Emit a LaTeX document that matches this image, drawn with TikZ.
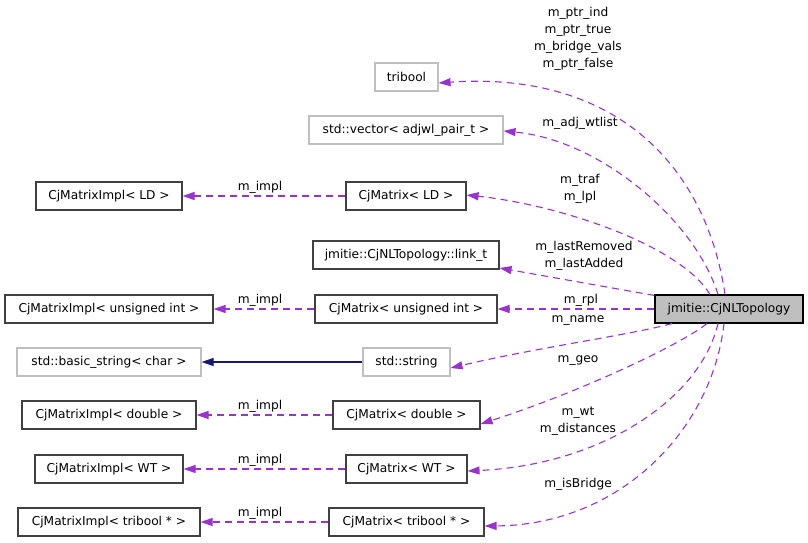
\documentclass[tikz,border=0pt]{standalone}
\usepackage{fontspec}
\setmainfont{DejaVu Sans}
\usetikzlibrary{arrows.meta}
\definecolor{edgepurple}{HTML}{9A32CD}
\definecolor{inhblue}{HTML}{191970}
\definecolor{graybd}{HTML}{BFBFBF}
\definecolor{darkbd}{HTML}{404040}
\begin{document}
\begin{tikzpicture}[x=1pt,y=-1pt,
  font=\fontsize{12.2}{14}\selectfont,
  cls/.style={draw=darkbd,line width=1.1pt,minimum height=28pt,inner sep=0pt,fill=white},
  ext/.style={draw=graybd,line width=1.1pt,minimum height=28pt,inner sep=0pt,fill=white},
  main/.style={draw=black,line width=1.1pt,minimum height=28pt,inner sep=0pt,fill=graybd},
  usage/.style={draw=edgepurple,line width=1.1pt,dash pattern=on 7pt off 5pt,-{Triangle[length=12pt,width=8pt,fill=edgepurple]}},
  inherit/.style={draw=inhblue,line width=1.1pt,-{Triangle[length=12pt,width=8pt,fill=inhblue]}},
  lbl/.style={inner sep=0pt,align=center,font=\fontsize{12.2}{17}\selectfont}]
\useasboundingbox (0,0) rectangle (808,543);

\node[ext,minimum width=63pt] (tribool) at (406.5,77) {tribool};
\node[ext,minimum width=194pt] (vec) at (406,130) {std::vector< adjwl\_pair\_t >};
\node[cls,minimum width=120pt] (mld) at (406,196) {CjMatrix< LD >};
\node[cls,minimum width=146pt] (ild) at (109,196) {CjMatrixImpl< LD >};
\node[cls,minimum width=186pt] (link) at (406,255) {jmitie::CjNLTopology::link\_t};
\node[cls,minimum width=182pt] (mui) at (406,309) {CjMatrix< unsigned int >};
\node[cls,minimum width=208pt] (iui) at (109,309) {CjMatrixImpl< unsigned int >};
\node[main,minimum width=148pt] (topo) at (729,309) {jmitie::CjNLTopology};
\node[ext,minimum width=87pt] (str) at (406.5,362) {std::string};
\node[ext,minimum width=184pt] (bstr) at (109,362) {std::basic\_string< char >};
\node[cls,minimum width=147pt] (mdb) at (406.5,415) {CjMatrix< double >};
\node[cls,minimum width=174pt] (idb) at (109,415) {CjMatrixImpl< double >};
\node[cls,minimum width=121pt] (mwt) at (406.5,469) {CjMatrix< WT >};
\node[cls,minimum width=148pt] (iwt) at (109,469) {CjMatrixImpl< WT >};
\node[cls,minimum width=155pt] (mtb) at (406.5,522) {CjMatrix< tribool * >};
\node[cls,minimum width=182pt] (itb) at (109,522) {CjMatrixImpl< tribool * >};

% usage edges from topology
\draw[usage] ([xshift=-4pt]topo.north) .. controls (705,160) and (610,71) .. ([yshift=-6pt]tribool.east);
\draw[usage] ([xshift=-11pt]topo.north) .. controls (695,220) and (600,140) .. ([yshift=-1pt]vec.east);
\draw[usage] ([xshift=-19pt]topo.north) .. controls (680,245) and (560,205) .. ([yshift=1pt]mld.east);
\draw[usage] ([yshift=-1pt]topo.north west) -- ([yshift=-13pt]link.east);
\draw[usage] (topo.west) -- (mui.east);
\draw[usage] ([xshift=-57pt]topo.south) .. controls (630,335) and (540,347) .. ([yshift=-6pt]str.east);
\draw[usage] ([xshift=-22pt]topo.south) .. controls (680,345) and (580,392) .. ([yshift=-9pt]mdb.east);
\draw[usage] ([xshift=-11pt]topo.south) .. controls (700,400) and (600,465) .. ([yshift=-2pt]mwt.east);
\draw[usage] ([xshift=-5pt]topo.south) .. controls (712,430) and (620,525) .. ([yshift=-4pt]mtb.east);

% m_impl edges
\draw[usage] (mld) -- (ild);
\draw[usage] (mui) -- (iui);
\draw[usage] (mdb) -- (idb);
\draw[usage] (mwt) -- (iwt);
\draw[usage] (mtb) -- (itb);
\draw[inherit] (str) -- (bstr);

% labels
\node[lbl] (l1) at (578,38.5) {m\_ptr\_ind\\m\_ptr\_true\\m\_bridge\_vals\\m\_ptr\_false};
\node[lbl] (l2) at (580,123) {m\_adj\_wtlist};
\node[lbl] (l3) at (580,188.5) {m\_traf\\m\_lpl};
\node[lbl] (l4) at (584,255.5) {m\_lastRemoved\\m\_lastAdded};
\node[lbl] (l5) at (581,300) {m\_rpl};
\node[lbl] (l6) at (578,321) {m\_name};
\node[lbl] (l7) at (578,361) {m\_geo};
\node[lbl] (l8) at (578,421) {m\_wt\\m\_distances};
\node[lbl] (l9) at (578,484) {m\_isBridge};
\node[lbl] (i1) at (260,187) {m\_impl};
\node[lbl] (i2) at (260,300) {m\_impl};
\node[lbl] (i3) at (260,406) {m\_impl};
\node[lbl] (i4) at (260,460) {m\_impl};
\node[lbl] (i5) at (260,513) {m\_impl};
\end{tikzpicture}
\end{document}
